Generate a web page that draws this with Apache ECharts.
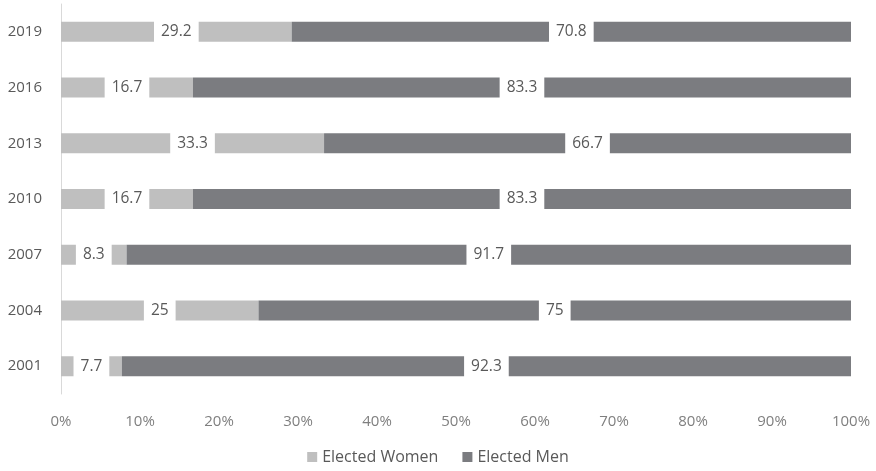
<!DOCTYPE html>
<html><head><meta charset="utf-8">
<script src="https://cdn.jsdelivr.net/npm/echarts@6/dist/echarts.min.js"></script>
<style>html,body{margin:0;padding:0;background:#fff}#c{width:876px;height:471px}</style>
</head><body><div id="c"></div>
<script>
const categories = ['2001','2004','2007','2010','2013','2016','2019'];
const women = [7.7, 25, 8.3, 16.7, 33.3, 16.7, 29.2];
const men = [92.3, 75, 91.7, 83.3, 66.7, 83.3, 70.8];
const xTicks = [0,10,20,30,40,50,60,70,80,90,100];

const font = '"Open Sans", sans-serif';
const lbl = {
  show: true, position: 'inside', color: '#595959', fontSize: 15.5, fontFamily: font,
  backgroundColor: '#fff', padding: [3, 7, 3, 7], lineHeight: 16
};
const chart = echarts.init(document.getElementById('c'));
chart.setOption({
  animation: false,
  grid: {left: 61, right: 25, top: 4, bottom: 77, containLabel: false},
  legend: {
    bottom: 1, left: 'center', itemWidth: 10, itemHeight: 10, itemGap: 24,
    icon: 'rect', textStyle: {color: '#595959', fontSize: 16, fontFamily: font},
    data: ['Elected Women', 'Elected Men']
  },
  xAxis: {
    type: 'value', min: 0, max: 100, interval: 10,
    axisLine: {show: false}, axisTick: {show: false}, splitLine: {show: false},
    axisLabel: {color: '#7f7f7f', fontSize: 15, fontFamily: font, margin: 20,
      formatter: v => xTicks.includes(v) ? v + '%' : ''}
  },
  yAxis: {
    type: 'category', data: categories,
    axisLine: {show: true, lineStyle: {color: '#d9d9d9', width: 1}},
    axisTick: {show: false},
    axisLabel: {color: '#595959', fontSize: 15, fontFamily: font, margin: 19}
  },
  series: [
    {name: 'Elected Women', type: 'bar', stack: 'a', data: women, barWidth: 20,
     itemStyle: {color: '#bfbfbf'}, label: lbl},
    {name: 'Elected Men', type: 'bar', stack: 'a', data: men, barWidth: 20,
     itemStyle: {color: '#7b7c80'}, label: lbl}
  ]
});
</script></body></html>
